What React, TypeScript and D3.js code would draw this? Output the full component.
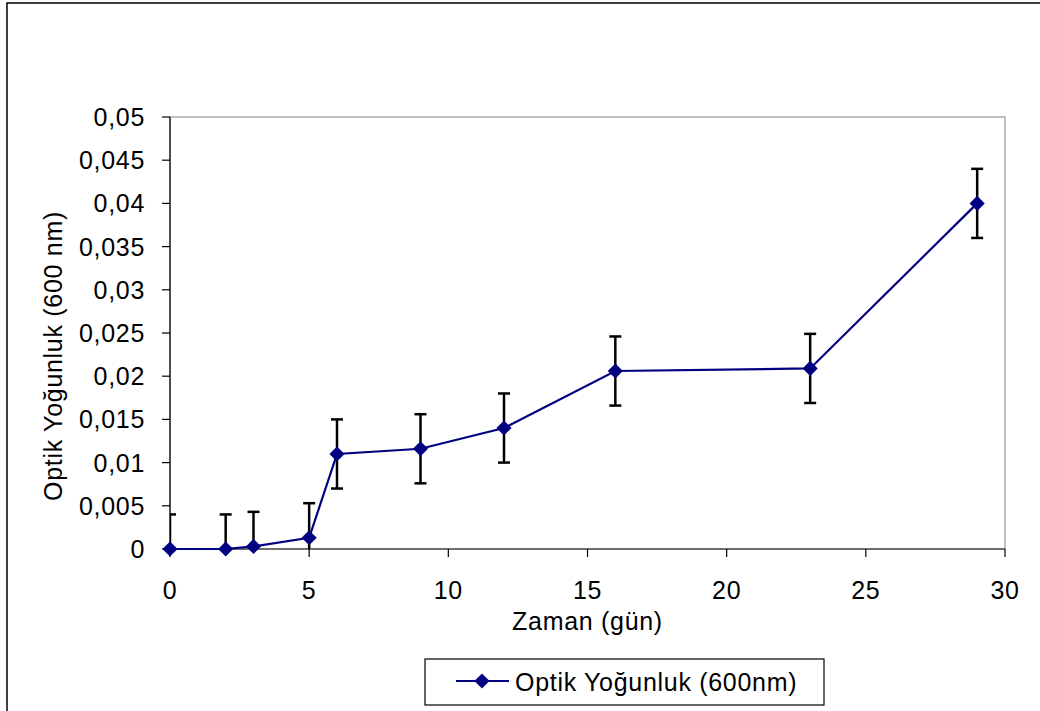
import React, { useRef, useEffect } from 'react';
import * as d3 from 'd3';

// days
const days = [0, 2, 3, 5, 6, 9, 12, 16, 23, 29];
// optical density at 600 nm
const od = [0, 0, 0.0003, 0.0013, 0.011, 0.0116, 0.014, 0.0206, 0.0209, 0.04];
const odErr = [0.004, 0.004, 0.004, 0.004, 0.004, 0.004, 0.004, 0.004, 0.004, 0.004];

const xTicks = [0, 5, 10, 15, 20, 25, 30];
const yTicks = [0, 0.005, 0.01, 0.015, 0.02, 0.025, 0.03, 0.035, 0.04, 0.045, 0.05];
const yTickLabels = ['0', '0,005', '0,01', '0,015', '0,02', '0,025', '0,03', '0,035', '0,04', '0,045', '0,05'];

const xTitle = 'Zaman (gün)';
const yTitle = 'Optik Yoğunluk (600 nm)';
const seriesName = 'Optik Yoğunluk (600nm)';

const App = () => {
  const svgRef = useRef<SVGSVGElement>(null);
  const width = 1040;
  const height = 711;
  const plot = { left: 170, right: 1005, top: 117, bottom: 549 };
  const font = "'Liberation Sans', Arial, sans-serif";
  const fontSize = 25;
  const spacing = 0.7;
  const navy = '#000080';

  useEffect(() => {
    const svg = d3.select(svgRef.current);
    svg.selectAll('*').remove();

    const x = d3.scaleLinear().domain([0, 30]).range([plot.left, plot.right]);
    const y = d3.scaleLinear().domain([0, 0.05]).range([plot.bottom, plot.top]);

    const data = days.map((d, i) => ({ day: d, v: od[i], e: odErr[i] }));

    // outer chart frame (runs off the page on right/bottom)
    svg.append('rect')
      .attr('x', 7).attr('y', 3)
      .attr('width', width + 20).attr('height', height + 20)
      .attr('fill', 'white')
      .attr('stroke', '#000').attr('stroke-width', 1.5);

    svg.append('defs').append('clipPath').attr('id', 'plot-clip')
      .append('rect')
      .attr('x', plot.left).attr('y', plot.top - 5)
      .attr('width', plot.right - plot.left).attr('height', plot.bottom - plot.top + 5);

    // plot area border
    svg.append('rect')
      .attr('x', plot.left).attr('y', plot.top)
      .attr('width', plot.right - plot.left).attr('height', plot.bottom - plot.top)
      .attr('fill', 'none')
      .attr('stroke', '#c0c0c0').attr('stroke-width', 2);

    // axes
    svg.append('line')
      .attr('x1', plot.left).attr('x2', plot.left)
      .attr('y1', plot.top).attr('y2', plot.bottom)
      .attr('stroke', '#000').attr('stroke-width', 1.2);
    svg.append('line')
      .attr('x1', plot.left).attr('x2', plot.right)
      .attr('y1', plot.bottom).attr('y2', plot.bottom)
      .attr('stroke', '#555').attr('stroke-width', 1.5);

    // y ticks
    svg.selectAll('line.ytick')
      .data(yTicks)
      .join('line')
      .attr('class', 'ytick')
      .attr('x1', plot.left - 8).attr('x2', plot.left)
      .attr('y1', d => y(d)).attr('y2', d => y(d))
      .attr('stroke', '#000').attr('stroke-width', 1.2);

    svg.selectAll('text.ylabel')
      .data(yTicks)
      .join('text')
      .attr('class', 'ylabel')
      .attr('x', 145)
      .attr('y', d => y(d) + 9)
      .attr('text-anchor', 'end')
      .attr('font-family', font)
      .attr('font-size', fontSize)
      .attr('letter-spacing', spacing)
      .attr('fill', '#000')
      .text((d, i) => yTickLabels[i]);

    // x ticks
    svg.selectAll('line.xtick')
      .data(xTicks)
      .join('line')
      .attr('class', 'xtick')
      .attr('x1', d => x(d)).attr('x2', d => x(d))
      .attr('y1', plot.bottom).attr('y2', plot.bottom + 8)
      .attr('stroke', '#000').attr('stroke-width', 1.2);

    svg.selectAll('text.xlabel')
      .data(xTicks)
      .join('text')
      .attr('class', 'xlabel')
      .attr('x', d => x(d))
      .attr('y', 599)
      .attr('text-anchor', 'middle')
      .attr('font-family', font)
      .attr('font-size', fontSize)
      .attr('letter-spacing', spacing)
      .attr('fill', '#000')
      .text(d => String(d));

    // axis titles
    svg.append('text')
      .attr('x', (plot.left + plot.right) / 2)
      .attr('y', 630)
      .attr('text-anchor', 'middle')
      .attr('font-family', font)
      .attr('font-size', fontSize)
      .attr('letter-spacing', spacing)
      .text(xTitle);

    svg.append('text')
      .attr('transform', 'translate(62,356) rotate(-90)')
      .attr('text-anchor', 'middle')
      .attr('font-family', font)
      .attr('font-size', fontSize)
      .attr('letter-spacing', spacing)
      .text(yTitle);

    // error bars, clipped at the plot area
    const eb = svg.append('g').attr('clip-path', 'url(#plot-clip)');
    eb.selectAll('line.stem')
      .data(data)
      .join('line')
      .attr('class', 'stem')
      .attr('x1', d => x(d.day)).attr('x2', d => x(d.day))
      .attr('y1', d => y(d.v + d.e)).attr('y2', d => y(d.v - d.e))
      .attr('stroke', '#000').attr('stroke-width', 2.5);
    eb.selectAll('line.capTop')
      .data(data)
      .join('line')
      .attr('class', 'capTop')
      .attr('x1', d => x(d.day) - 6).attr('x2', d => x(d.day) + 6)
      .attr('y1', d => y(d.v + d.e)).attr('y2', d => y(d.v + d.e))
      .attr('stroke', '#000').attr('stroke-width', 2.5);
    eb.selectAll('line.capBot')
      .data(data)
      .join('line')
      .attr('class', 'capBot')
      .attr('x1', d => x(d.day) - 6).attr('x2', d => x(d.day) + 6)
      .attr('y1', d => y(d.v - d.e)).attr('y2', d => y(d.v - d.e))
      .attr('stroke', '#000').attr('stroke-width', 2.5);

    // series line
    const line = d3.line<{ day: number; v: number }>()
      .x(d => x(d.day))
      .y(d => y(d.v));
    svg.append('path')
      .datum(data)
      .attr('d', line)
      .attr('fill', 'none')
      .attr('stroke', navy)
      .attr('stroke-width', 2.2);

    // diamond markers (rotated squares)
    const marker = d3.symbol().type(d3.symbolSquare).size(115)();
    svg.selectAll('path.marker')
      .data(data)
      .join('path')
      .attr('class', 'marker')
      .attr('transform', d => `translate(${x(d.day)},${y(d.v)}) rotate(45)`)
      .attr('d', marker)
      .attr('fill', navy);

    // legend
    const lg = svg.append('g');
    lg.append('rect')
      .attr('x', 425).attr('y', 659)
      .attr('width', 399).attr('height', 46)
      .attr('fill', 'white')
      .attr('stroke', '#000').attr('stroke-width', 1.2);
    lg.append('line')
      .attr('x1', 456).attr('x2', 509)
      .attr('y1', 681).attr('y2', 681)
      .attr('stroke', navy).attr('stroke-width', 2.2);
    lg.append('path')
      .attr('transform', 'translate(482,681) rotate(45)')
      .attr('d', marker)
      .attr('fill', navy);
    lg.append('text')
      .attr('x', 515).attr('y', 691)
      .attr('font-family', font)
      .attr('font-size', fontSize)
      .attr('letter-spacing', spacing)
      .text(seriesName);
  }, []);

  return (
    <svg
      ref={svgRef}
      width={width}
      height={height}
      style={{ position: 'absolute', left: 0, top: 0, display: 'block' }}
    />
  );
};

export default App;
